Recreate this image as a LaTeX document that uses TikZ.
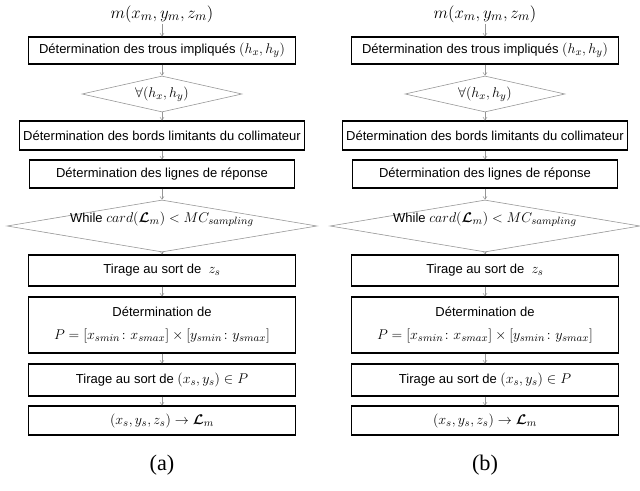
\documentclass[tikz,border=0pt]{standalone}
\usepackage{amsmath}
\usepackage{fontspec}
\setmainfont{Liberation Sans}
\newfontfamily\legfont{Liberation Serif}
\usetikzlibrary{shapes.geometric,arrows.meta,positioning}
\definecolor{gristrait}{RGB}{150,150,150}
\newcommand\mth[1]{{\fontsize{13}{18}\selectfont$#1$}}

\begin{document}
\begin{tikzpicture}[
  etape/.style={rectangle, draw, line width=0.9pt, minimum width=8.0cm,
                align=center, inner sep=2pt, font=\fontsize{11.1}{19}\selectfont},
  cond/.style={diamond, draw=gristrait, line width=0.5pt, inner sep=0pt,
               font=\fontsize{11.1}{13}\selectfont},
  arr/.style={-{Straight Barb[length=2.5pt,width=3.5pt]}, draw=gristrait, line width=0.4pt},
  titre/.style={font=\fontsize{15.5}{18}\selectfont, inner sep=1pt},
  legende/.style={font=\legfont\fontsize{19}{22}\selectfont}
]
\useasboundingbox (0,0) rectangle (19.2,-14.73);

\foreach \cx/\lab in {4.86/a, 14.55/b}{
\begin{scope}[xshift=\cx cm]
\node[titre] (m-\lab) at (0,-0.42) {$m(x_m,y_m,z_m)$};
\node[etape, minimum height=0.81cm] (trous-\lab) at (0,-1.515) {Détermination des trous impliqués \mth{(h_x,h_y)}};
\node[cond, minimum width=4.8cm, minimum height=1.08cm, shape aspect=4.4] (pourtout-\lab) at (0,-2.82) {\mth{\forall(h_x,h_y)}};
\node[etape, minimum width=8.55cm, minimum height=0.87cm] (bords-\lab) at (0,-4.065) {Détermination des bords limitants du collimateur};
\node[etape, minimum width=7.95cm, minimum height=0.84cm] (lignes-\lab) at (0,-5.22) {Détermination des lignes de réponse};
\node[cond, minimum width=9.3cm, minimum height=1.56cm, shape aspect=6] (tantque-\lab) at (0,-6.78)
  {\raisebox{0.12cm}[0pt][0pt]{While \mth{card(\boldsymbol{\mathcal{L}}_m)<MC_{sampling}}}};
\node[etape, minimum height=0.93cm] (zs-\lab) at (0,-8.115) {Tirage au sort de~ \mth{z_s}};
\node[etape, minimum height=1.68cm] (plan-\lab) at (0,-9.75) {Détermination de\\ \mth{P=[x_{smin}\colon x_{smax}]\times[y_{smin}\colon y_{smax}]}};
\node[etape, minimum height=0.96cm] (xy-\lab) at (0,-11.4) {Tirage au sort de \mth{(x_s,y_s)\in P}};
\node[etape, minimum height=0.87cm] (ajout-\lab) at (0,-12.615) {\mth{(x_s,y_s,z_s)\rightarrow\boldsymbol{\mathcal{L}}_m}};
\node[legende] (leg-\lab) at (0,-13.95) {(\lab)};

% Enchaînement vertical
\draw[arr] (m-\lab) -- (trous-\lab);
\draw[arr] (trous-\lab) -- (pourtout-\lab);
\draw[arr] (pourtout-\lab) -- (bords-\lab);
\draw[arr] (bords-\lab) -- (lignes-\lab);
\draw[arr] (lignes-\lab) -- (tantque-\lab);

% Boucle d'échantillonnage
\draw[arr] (tantque-\lab) -- (zs-\lab);
\draw[arr] (zs-\lab) -- (plan-\lab);
\draw[arr] (plan-\lab) -- (xy-\lab);
\draw[arr] (xy-\lab) -- (ajout-\lab);
\end{scope}
}

\end{tikzpicture}
\end{document}
